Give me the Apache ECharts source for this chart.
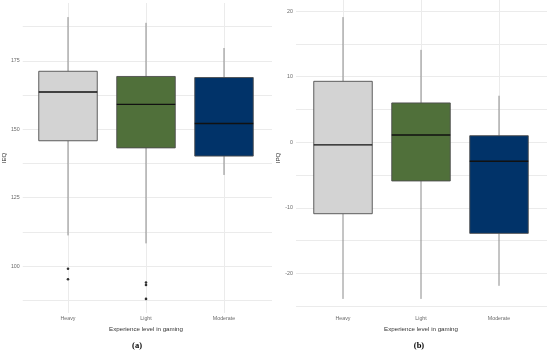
<!DOCTYPE html>
<html>
<head>
<meta charset="utf-8">
<script src="https://cdn.jsdelivr.net/npm/echarts@6/dist/echarts.min.js"></script>
<style>html,body{margin:0;padding:0;background:#fff}#c{width:550px;height:353px}</style>
</head>
<body>
<div id="c"></div>
<script>
// ---- data ----
const categories = ['Heavy', 'Light', 'Moderate'];

// (a) IEQ
const ieqLow    = [111.2, 108.3, 133.3];
const ieqQ1     = [145.8, 143.2, 140.2];
const ieqMedian = [163.6, 159.1, 152.1];
const ieqQ3     = [171.2, 169.3, 168.9];
const ieqHigh   = [191.0, 188.9, 179.7];
const ieqOutlierCats   = ['Heavy', 'Heavy', 'Light', 'Light', 'Light'];
const ieqOutlierValues = [99.0, 95.2, 94.0, 93.1, 88.0];
const ieqTickLabels = [100, 125, 150, 175];
const ieqGridValues = [87.5, 100, 112.5, 125, 137.5, 150, 162.5, 175, 187.5];
const ieqRange = [82.85, 196.15];

// (b) IPQ
const ipqLow    = [-23.9, -23.9, -21.9];
const ipqQ1     = [-10.9, -5.9, -13.9];
const ipqMedian = [-0.4, 1.1, -2.9];
const ipqQ3     = [9.3, 6.0, 1.0];
const ipqHigh   = [19.1, 14.1, 7.1];
const ipqTickLabels = [-20, -10, 0, 10, 20];
const ipqGridValues = [-25, -20, -15, -10, -5, 0, 5, 10, 15, 20];
const ipqRange = [-26.05, 21.25];

// ---- styles ----
const fills = ['#d3d3d3', '#50703a', '#013369'];
const gridColor = '#ebebeb';

function rows(low, q1, med, q3, high) {
  return categories.map((c, i) => [i, low[i], q1[i], med[i], q3[i], high[i]]);
}

function renderBox(params, api) {
  const i = api.value(0);
  const lo = api.coord([i, api.value(1)]);
  const q1 = api.coord([i, api.value(2)]);
  const md = api.coord([i, api.value(3)]);
  const q3 = api.coord([i, api.value(4)]);
  const hi = api.coord([i, api.value(5)]);
  const bw = api.size([1, 0])[0] * 0.75;
  const x = lo[0];
  return {
    type: 'group',
    children: [
      { type: 'line', shape: { x1: x, y1: hi[1], x2: x, y2: q3[1] }, style: { stroke: '#8a8a8a', lineWidth: 1 } },
      { type: 'line', shape: { x1: x, y1: q1[1], x2: x, y2: lo[1] }, style: { stroke: '#8a8a8a', lineWidth: 1 } },
      { type: 'rect', shape: { x: x - bw / 2, y: q3[1], width: bw, height: q1[1] - q3[1] },
        style: { fill: fills[i], stroke: '#4d4d4d', lineWidth: 0.9 } },
      { type: 'line', shape: { x1: x - bw / 2, y1: md[1], x2: x + bw / 2, y2: md[1] }, style: { stroke: '#111', lineWidth: 1.4 } }
    ]
  };
}

const labelFont = { fontFamily: 'Liberation Sans', fontSize: 5.3, color: '#6b6b6b' };
const nameFont = { fontFamily: 'Liberation Sans', fontSize: 6.2, color: '#333' };

function wideY(grid, range, ticks, gridVals, name) {
  return {
    gridIndex: grid, type: 'value', min: range[0], max: range[1],
    name: name, nameLocation: 'middle', nameGap: 14, nameRotate: 90, nameTextStyle: nameFont,
    axisLine: { show: false },
    axisTick: { show: false, customValues: gridVals },
    axisLabel: Object.assign({ customValues: ticks, margin: 3 }, labelFont),
    splitLine: { show: true, lineStyle: { color: gridColor, width: 1 } }
  };
}
function narrowY(grid, range) {
  return { gridIndex: grid, type: 'value', min: range[0], max: range[1], show: false, splitLine: { show: false } };
}
function wideX(grid) {
  return { gridIndex: grid, type: 'value', min: 0, max: 1, show: false, splitLine: { show: false } };
}
function catX(grid) {
  return {
    gridIndex: grid, type: 'category', data: categories,
    name: 'Experience level in gaming', nameLocation: 'middle', nameGap: 7, nameTextStyle: nameFont,
    axisLine: { show: false },
    axisTick: { show: true, alignWithLabel: true, inside: true, length: 310, lineStyle: { color: gridColor, width: 1 } },
    axisLabel: Object.assign({ margin: 3 }, labelFont),
    splitLine: { show: false }
  };
}

const option = {
  animation: false,
  backgroundColor: '#fff',
  title: [
    { text: '(a)', left: 132, top: 336, textAlign: 'center',
      textStyle: { fontFamily: 'Liberation Serif', fontWeight: 'bold', fontSize: 8.5, color: '#000' } },
    { text: '(b)', left: 414, top: 336, textAlign: 'center',
      textStyle: { fontFamily: 'Liberation Serif', fontWeight: 'bold', fontSize: 8.5, color: '#000' } }
  ],
  grid: [
    { left: 20, top: 3, width: 252, height: 310 },
    { left: 29, top: 3, width: 234, height: 310 },
    { left: 296, top: 3, width: 251, height: 310 },
    { left: 304, top: 3, width: 234, height: 310 }
  ],
  xAxis: [wideX(0), catX(1), wideX(2), catX(3)],
  yAxis: [
    wideY(0, ieqRange, ieqTickLabels, ieqGridValues, 'IEQ'),
    narrowY(1, ieqRange),
    wideY(2, ipqRange, ipqTickLabels, ipqGridValues, 'IPQ'),
    narrowY(3, ipqRange)
  ],
  series: [
    { type: 'custom', xAxisIndex: 1, yAxisIndex: 1, renderItem: renderBox,
      data: rows(ieqLow, ieqQ1, ieqMedian, ieqQ3, ieqHigh), encode: { x: 0, y: [1, 2, 3, 4, 5] }, z: 3 },
    { type: 'scatter', xAxisIndex: 1, yAxisIndex: 1, symbolSize: 2.6, itemStyle: { color: '#000' },
      data: ieqOutlierCats.map((c, k) => [c, ieqOutlierValues[k]]), z: 4 },
    { type: 'custom', xAxisIndex: 3, yAxisIndex: 3, renderItem: renderBox,
      data: rows(ipqLow, ipqQ1, ipqMedian, ipqQ3, ipqHigh), encode: { x: 0, y: [1, 2, 3, 4, 5] }, z: 3 }
  ]
};

const chart = echarts.init(document.getElementById('c'), null, { renderer: 'canvas' });
chart.setOption(option);
</script>
</body>
</html>
